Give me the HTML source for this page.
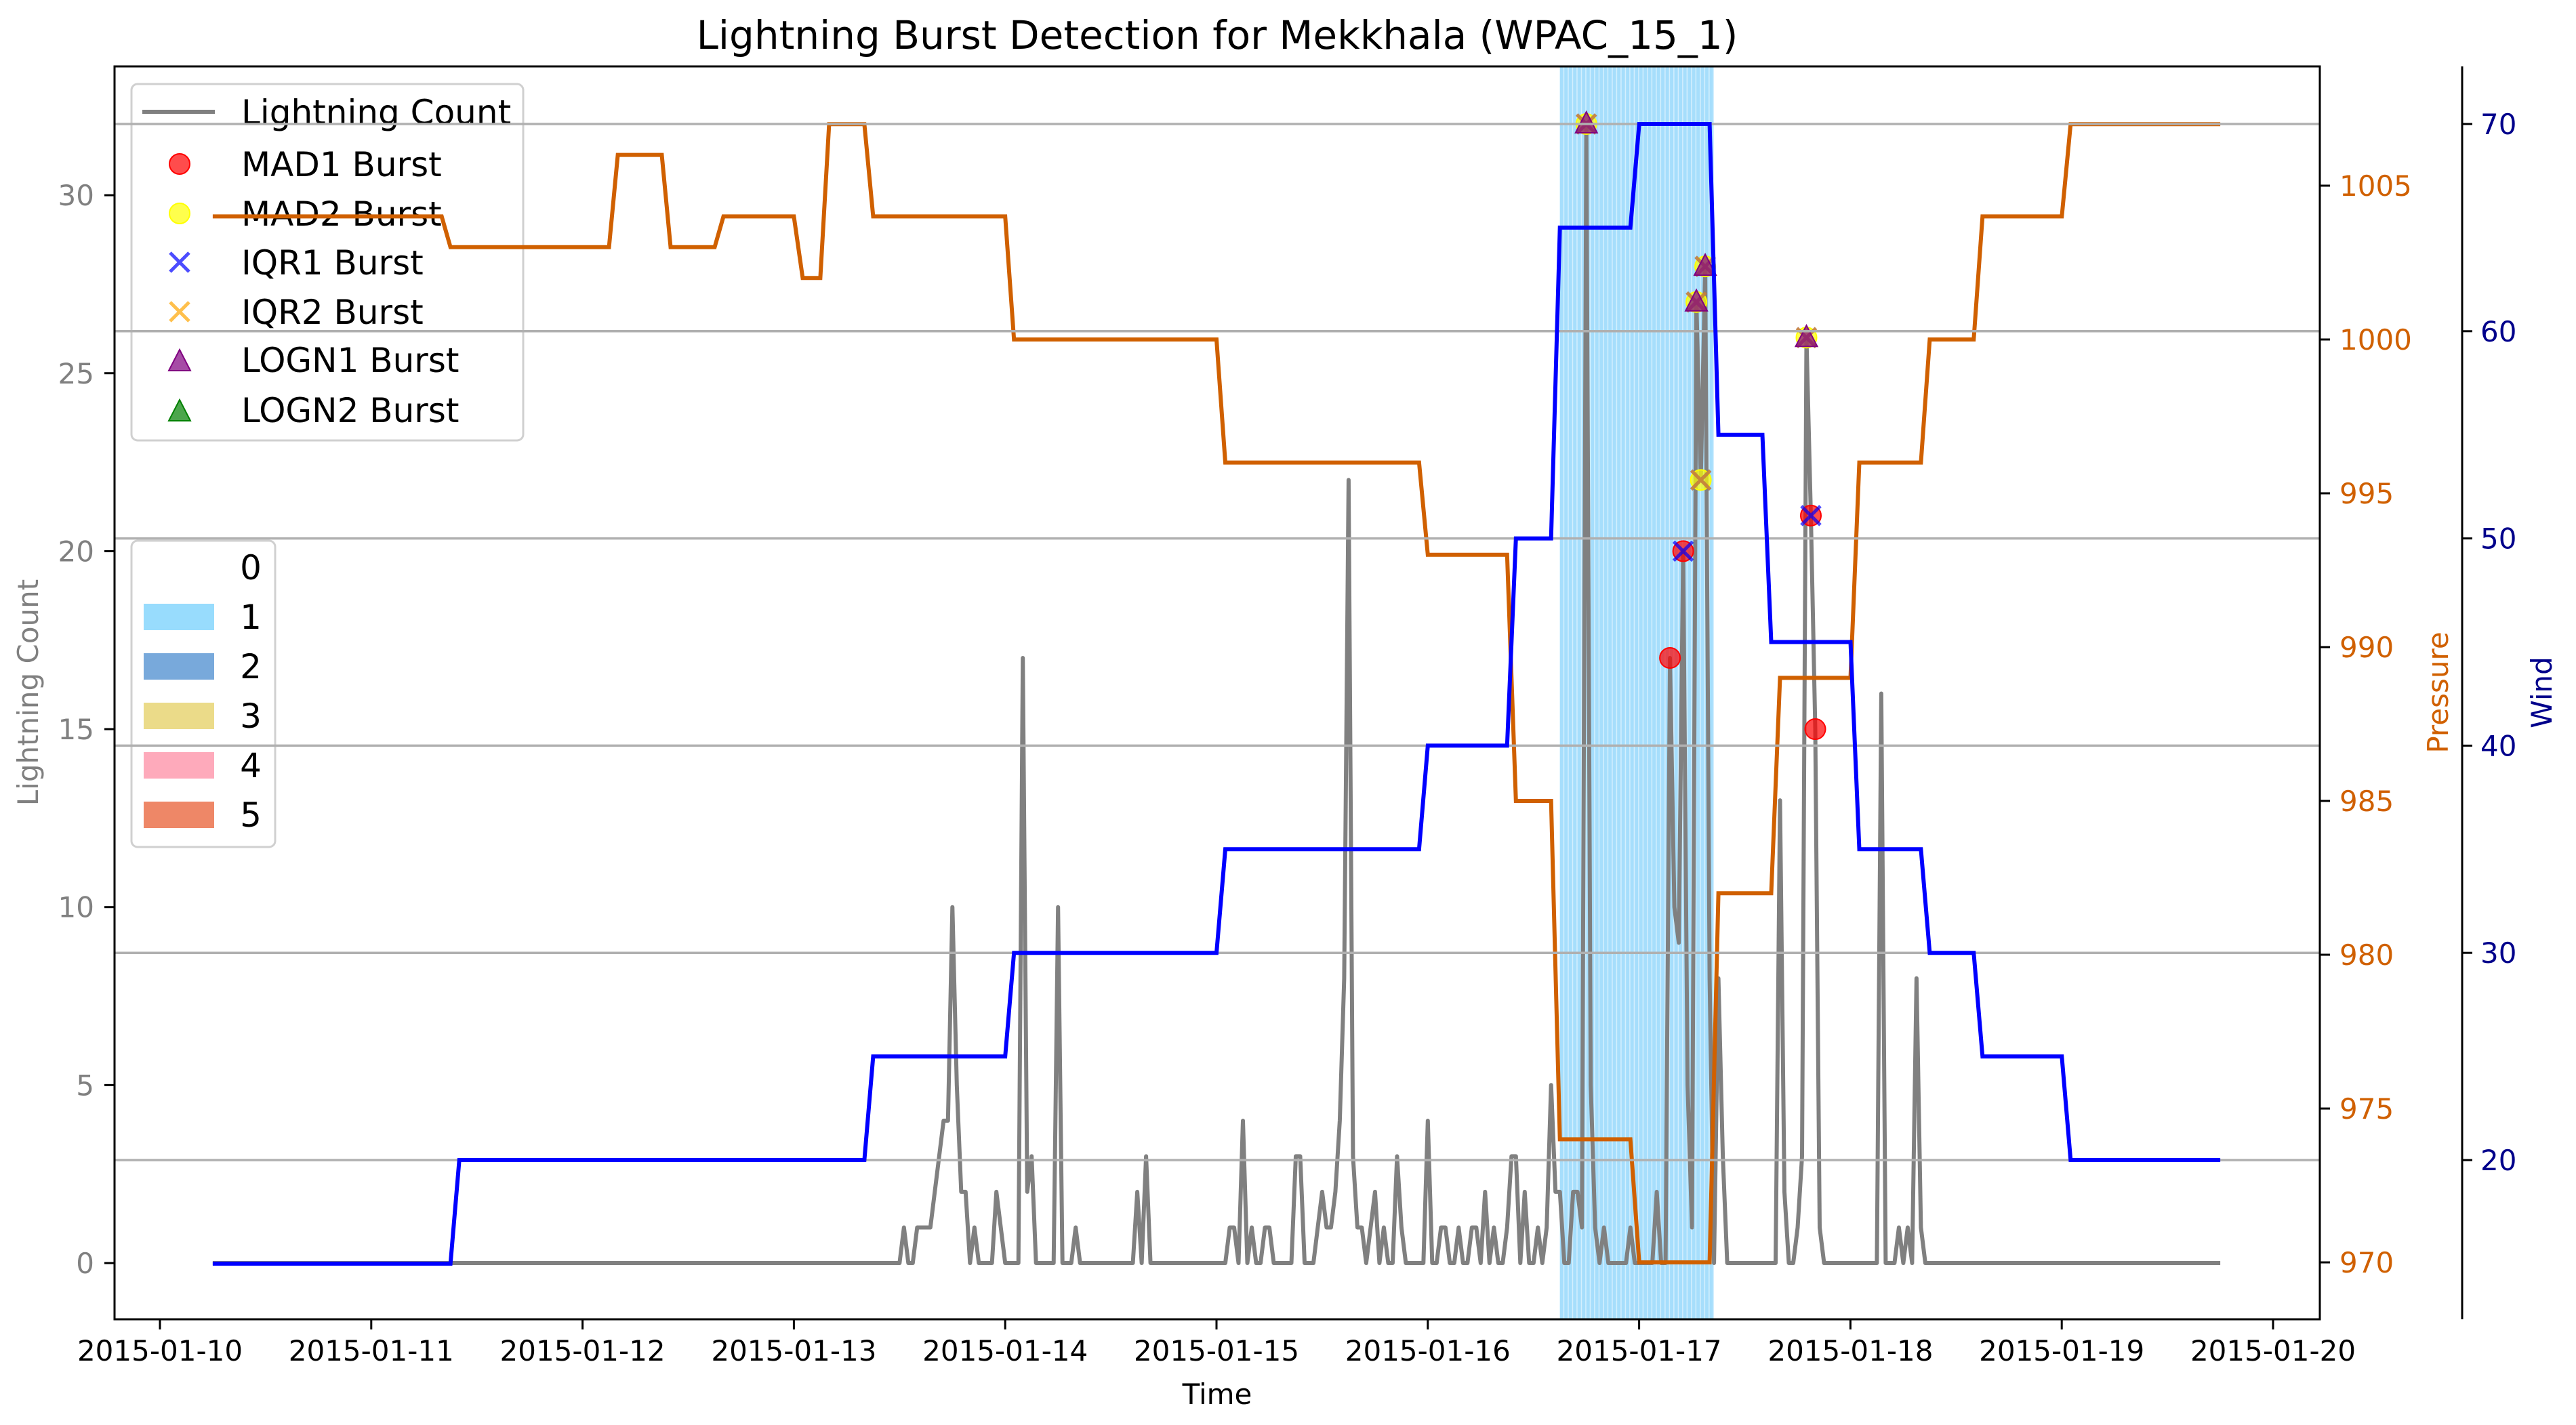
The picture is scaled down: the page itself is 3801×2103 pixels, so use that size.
<!DOCTYPE html>
<html><head><meta charset="utf-8"><style>
html,body{margin:0;padding:0;background:#fff;}
svg{display:block;font-family:"DejaVu Sans","Liberation Sans",sans-serif;}
</style></head><body>
<svg id="chart" width="3801" height="2103" viewBox="0 0 3801 2103" xmlns="http://www.w3.org/2000/svg">
<rect width="3801" height="2103" fill="#fff"/>
<g id="shade"></g>
<g id="ltn"></g>
<g id="marks"></g>
<g id="leg1">
 <rect x="194" y="124" width="578" height="526" rx="9" fill="#fff" fill-opacity="0.8" stroke="#d0d0d0" stroke-width="3"/>
 <line x1="210" y1="165" x2="317" y2="165" stroke="#808080" stroke-width="6"/>
 <text x="356" y="183" font-size="50">Lightning Count</text>
 <circle cx="265" cy="242" r="15" fill="red" fill-opacity="0.7" stroke="red" stroke-width="2"/>
 <text x="356" y="260" font-size="50">MAD1 Burst</text>
 <circle cx="265" cy="315" r="15" fill="yellow" fill-opacity="0.7" stroke="yellow" stroke-width="2"/>
 <text x="356" y="333" font-size="50">MAD2 Burst</text>
 <path d="M251 373 L279 401 M279 373 L251 401" stroke="blue" stroke-opacity="0.7" stroke-width="5"/>
 <text x="356" y="405" font-size="50">IQR1 Burst</text>
 <path d="M251 446 L279 474 M279 446 L251 474" stroke="orange" stroke-opacity="0.7" stroke-width="5"/>
 <text x="356" y="478" font-size="50">IQR2 Burst</text>
 <path d="M265 516 L281 547 L249 547 Z" fill="purple" fill-opacity="0.7" stroke="purple" stroke-width="2"/>
 <text x="356" y="549" font-size="50">LOGN1 Burst</text>
 <path d="M265 590 L281 621 L249 621 Z" fill="green" fill-opacity="0.7" stroke="green" stroke-width="2"/>
 <text x="356" y="623" font-size="50">LOGN2 Burst</text>
</g>
<g id="leg2">
 <rect x="194" y="798" width="212" height="452" rx="9" fill="#fff" fill-opacity="0.8" stroke="#d0d0d0" stroke-width="3"/>
 <text x="370" y="855" font-size="50" text-anchor="middle">0</text>
 <rect x="212" y="891" width="104" height="39" fill="#98dcfd"/><text x="370" y="928" font-size="50" text-anchor="middle">1</text>
 <rect x="212" y="964" width="104" height="39" fill="#78a9db"/><text x="370" y="1001" font-size="50" text-anchor="middle">2</text>
 <rect x="212" y="1037" width="104" height="39" fill="#ebdb89"/><text x="370" y="1074" font-size="50" text-anchor="middle">3</text>
 <rect x="212" y="1110" width="104" height="39" fill="#feaabb"/><text x="370" y="1147" font-size="50" text-anchor="middle">4</text>
 <rect x="212" y="1183" width="104" height="39" fill="#ee8767"/><text x="370" y="1220" font-size="50" text-anchor="middle">5</text>
</g>
<g id="pres"></g>
<g id="grid"></g>
<g id="wind"></g>
<g id="axes"></g>
<text x="1796" y="72" font-size="58" text-anchor="middle">Lightning Burst Detection for Mekkhala (WPAC_15_1)</text>
<text x="1796" y="2072" font-size="42" text-anchor="middle">Time</text>
<text transform="translate(56,1022) rotate(-90)" font-size="42" fill="#808080" text-anchor="middle">Lightning Count</text>
<text transform="translate(3612,1022) rotate(-90)" font-size="42" fill="#d06000" text-anchor="middle">Pressure</text>
<text transform="translate(3765,1022) rotate(-90)" font-size="42" fill="#00008b" text-anchor="middle">Wind</text>
</svg>
<script>
// hours from 2015-01-10 06:00
const lightningHours = [78.5,80,80.5,81,81.5,82,82.5,83,83.5,84,84.5,85,85.5,86.5,89,89.5,92,92.5,93,96,98,105,106,115.5,116,117,118,119.5,120,123,123.5,125.5,126,126.5,127,127.5,128,128.5,129,129.5,130,130.5,131.5,132,133,134.5,135,138,139.5,140,141.5,143,143.5,144.5,145.5,147,147.5,148,149,150.5,151.5,152,152.5,153,154.5,155,155.5,156,156.5,157,158,161,164,165.5,166,166.5,167,167.5,168,168.5,169,169.5,170,171,171.5,178,178.5,180,180.5,181,181.5,182,182.5,189.5,191.5,192.5,193.5,194];
const lightningValues = [1,1,1,1,1,2,3,4,4,10,5,2,2,1,2,1,17,2,3,10,1,2,3,1,1,4,1,1,1,3,3,1,2,1,1,2,4,8,22,3,1,1,1,2,1,3,1,4,1,1,1,1,1,2,1,1,3,3,2,1,1,5,2,2,2,2,1,32,5,1,1,1,2,17,10,9,20,5,1,27,22,28,8,8,3,13,2,1,3,26,21,15,1,16,1,1,8,1];
const pressureStartHours = [0,27,46,52,58,67,70,75,91,115,138,148,153,162,171,178,187,195,201,211];
const pressureValues = [1004,1003,1006,1003,1004,1002,1007,1004,1000,996,993,985,974,970,982,989,996,1000,1004,1007];
const windStartHours = [0,28,75,91,115,138,148,153,162,171,177,187,195,201,211];
const windValues = [15,20,25,30,35,40,50,65,70,55,45,35,30,25,20];
const shadeStart = 153, shadeEnd = 170.5;
const mad1Hours = [165.5,167,181.5,182];
const mad2Hours = [156,168.5,169,169.5,181];
const iqr1Hours = [156,167,168.5,169,169.5,181,181.5];
const iqr2Hours = [156,168.5,169,169.5,181];
const logn1Hours = [156,168.5,169.5,181];
const logn2Hours = [];
const xTickLabels = ["2015-01-10","2015-01-11","2015-01-12","2015-01-13","2015-01-14","2015-01-15","2015-01-16","2015-01-17","2015-01-18","2015-01-19","2015-01-20"];
const countTicks = [0,5,10,15,20,25,30];
const pressureTicks = [970,975,980,985,990,995,1000,1005];
const windTicks = [20,30,40,50,60,70];
const totalHours = 228;

const NS="http://www.w3.org/2000/svg";
const X = h => 313.95 + h*12.992;
const XD = d => 236 + d*311.8;
const YC = v => 1864 - v*52.53;
const YP = p => 1863 - (p-970)*45.4;
const YW = w => 1712 - (w-20)*30.58;
function el(tag, attrs, parent){const e=document.createElementNS(NS,tag);for(const k in attrs)e.setAttribute(k,attrs[k]);parent.appendChild(e);return e;}
const G = id => document.getElementById(id);

const shade=G('shade');
const base=el('rect',{x:X(shadeStart),y:98,width:X(shadeEnd)-X(shadeStart),height:1849,fill:'#d4effe'},shade);


for(let h=shadeStart;h<shadeEnd;h+=0.5){
  const r=el('rect',{x:X(h),y:98,width:5,height:1849,fill:'#a6defc'},shade);
  
  
}

const lmap={};
lightningHours.forEach((h,i)=>{lmap[h]=lightningValues[i];});
let pts=[];
for(let h=0;h<=totalHours;h+=0.5){pts.push(X(h).toFixed(1)+','+YC(lmap[h]||0).toFixed(1));}
const lp=el('polyline',{points:pts.join(' '),fill:'none',stroke:'#808080','stroke-width':6,'stroke-linejoin':'round'},G('ltn'));



const mk=G('marks');
function valAt(h){return lmap[h]||0;}
function circ(hs,color,name){hs.forEach(h=>{const c=el('circle',{cx:X(h),cy:YC(valAt(h)),r:15,fill:color,'fill-opacity':0.7,stroke:color,'stroke-width':2},mk);
 
 });}
function cross(hs,color,name){hs.forEach(h=>{const x=X(h),y=YC(valAt(h));const p=el('path',{d:`M${x-14} ${y-14}L${x+14} ${y+14}M${x+14} ${y-14}L${x-14} ${y+14}`,stroke:color,'stroke-opacity':0.7,'stroke-width':5},mk);
 
 });}
function tri(hs,color,name){hs.forEach(h=>{const x=X(h),y=YC(valAt(h));const p=el('path',{d:`M${x} ${y-18}L${x+16} ${y+13}L${x-16} ${y+13}Z`,fill:color,'fill-opacity':0.7,stroke:color,'stroke-width':2},mk);
 
 });}
circ(mad1Hours,'red','mad1-marker');
circ(mad2Hours,'yellow','mad2-marker');
cross(iqr1Hours,'blue','iqr1-marker');
cross(iqr2Hours,'orange','iqr2-marker');
tri(logn1Hours,'purple','logn1-marker');
tri(logn2Hours,'green','logn2-marker');

function stepSeries(starts,vals,Y){let out=[];for(let h=0;h<=totalHours;h++){let v=vals[0];for(let i=0;i<starts.length;i++){if(h>=starts[i])v=vals[i];}out.push(X(h).toFixed(1)+','+Y(v).toFixed(1));}return out.join(' ');}
const pl=el('polyline',{points:stepSeries(pressureStartHours,pressureValues,YP),fill:'none',stroke:'#d06000','stroke-width':6},G('pres'));



windTicks.forEach(w=>{const l=el('line',{x1:169,x2:3423,y1:YW(w),y2:YW(w),stroke:'#b0b0b0','stroke-width':3.5},G('grid'));
 
 });

const wl=el('polyline',{points:stepSeries(windStartHours,windValues,YW),fill:'none',stroke:'blue','stroke-width':6},G('wind'));



const ax=G('axes');
const fr=el('rect',{x:169,y:98,width:3254,height:1849,fill:'none',stroke:'#000','stroke-width':3},ax);


const sp=el('line',{x1:3633,x2:3633,y1:98,y2:1947,stroke:'#000','stroke-width':3},ax);


xTickLabels.forEach((t,i)=>{const x=XD(i);el('line',{x1:x,x2:x,y1:1947,y2:1962,stroke:'#000','stroke-width':3},ax);
 const tx=el('text',{x:x,y:2008,'font-size':42,'text-anchor':'middle'},ax);tx.textContent=t;
 
 });
countTicks.forEach(v=>{const y=YC(v);el('line',{x1:154,x2:169,y1:y,y2:y,stroke:'#000','stroke-width':3},ax);
 const tx=el('text',{x:139,y:y+15,'font-size':42,'text-anchor':'end',fill:'#808080'},ax);tx.textContent=v;
 
 });
pressureTicks.forEach(v=>{const y=YP(v);el('line',{x1:3423,x2:3438,y1:y,y2:y,stroke:'#000','stroke-width':3},ax);
 const tx=el('text',{x:3452,y:y+15,'font-size':42,fill:'#d06000'},ax);tx.textContent=v;
 
 });
windTicks.forEach(v=>{const y=YW(v);el('line',{x1:3633,x2:3648,y1:y,y2:y,stroke:'#000','stroke-width':3},ax);
 const tx=el('text',{x:3660,y:y+15,'font-size':42,fill:'#00008b'},ax);tx.textContent=v;
 
 });
</script>
</body></html>
